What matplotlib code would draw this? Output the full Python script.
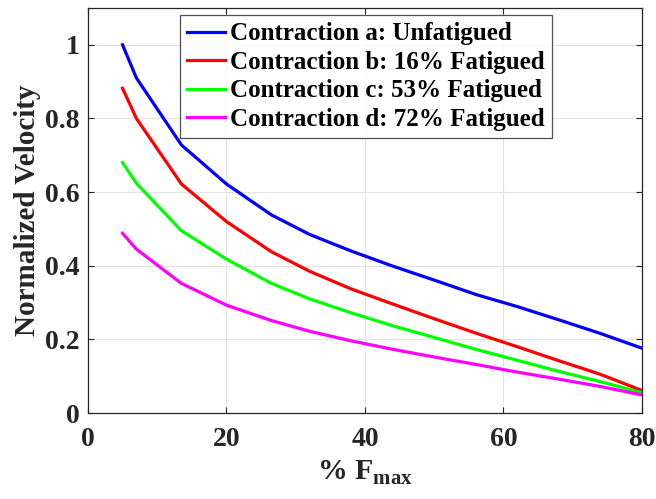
import numpy as np
import matplotlib
matplotlib.use("Agg")
import matplotlib.pyplot as plt

# data
f_max = [5, 7, 13.5, 20, 26.5, 32, 38, 44, 50, 56, 62, 68, 74, 80]
vel_a = [1.0, 0.91, 0.728, 0.622, 0.538, 0.485, 0.44, 0.399, 0.361, 0.322, 0.289, 0.253, 0.216, 0.176]
vel_b = [0.882, 0.80, 0.622, 0.52, 0.438, 0.385, 0.337, 0.296, 0.256, 0.217, 0.18, 0.142, 0.105, 0.061]
vel_c = [0.68, 0.624, 0.495, 0.418, 0.352, 0.31, 0.272, 0.237, 0.205, 0.173, 0.143, 0.113, 0.085, 0.055]
vel_d = [0.488, 0.445, 0.352, 0.293, 0.251, 0.222, 0.196, 0.173, 0.152, 0.132, 0.111, 0.092, 0.072, 0.049]
labels = ["Contraction a: Unfatigued", "Contraction b: 16% Fatigued",
          "Contraction c: 53% Fatigued", "Contraction d: 72% Fatigued"]
colors = ["#0000ff", "#ff0000", "#00ff00", "#ff00ff"]

plt.rcParams['font.family'] = 'Liberation Serif'
plt.rcParams['font.weight'] = 'bold'
plt.rcParams['mathtext.fontset'] = 'custom'
plt.rcParams['mathtext.rm'] = 'Liberation Serif:bold'
plt.rcParams['mathtext.bf'] = 'Liberation Serif:bold'

fig = plt.figure(figsize=(6.56, 4.99), dpi=100)
ax = fig.add_axes([0.134, 0.1723, 0.8447, 0.8117])

for v, lab, c in zip([vel_a, vel_b, vel_c, vel_d], labels, colors):
    ax.plot(f_max, v, color=c, lw=2.3, label=lab)

ax.set_xlim(0, 80)
ax.set_ylim(0, 1.1)
ax.set_xticks([0, 20, 40, 60, 80])
ax.set_yticks([0, 0.2, 0.4, 0.6, 0.8, 1.0])
ax.set_yticklabels(["0", "0.2", "0.4", "0.6", "0.8", "1"])
ax.grid(True, color='#e3e3e3', lw=0.8)
ax.set_axisbelow(True)
ax.tick_params(direction='in', length=4, width=0.8, colors='#262626',
               labelsize=20, top=True, right=True)
ax.tick_params(axis='x', pad=10)
ax.tick_params(axis='y', pad=6)
for lbl in ax.get_xticklabels() + ax.get_yticklabels():
    lbl.set_fontweight('bold')
for s in ax.spines.values():
    s.set_color('#262626')
    s.set_linewidth(0.9)

ax.set_xlabel(r'% F$_{\rm max}$', fontsize=21.5, fontweight='bold', color='#262626', labelpad=5)
ax.set_ylabel('Normalized Velocity', fontsize=21, fontweight='bold', color='#262626', labelpad=3)

leg = ax.legend(loc='upper left', bbox_to_anchor=(0.166, 0.983), fontsize=18,
                frameon=True, fancybox=False, handlelength=1.5, handletextpad=0.2,
                borderpad=0.3, labelspacing=0.22, borderaxespad=0)
leg.get_frame().set_edgecolor('#262626')
leg.get_frame().set_linewidth(0.9)
for t in leg.get_texts():
    t.set_fontweight('bold')

fig.savefig("out.png", dpi=100)
